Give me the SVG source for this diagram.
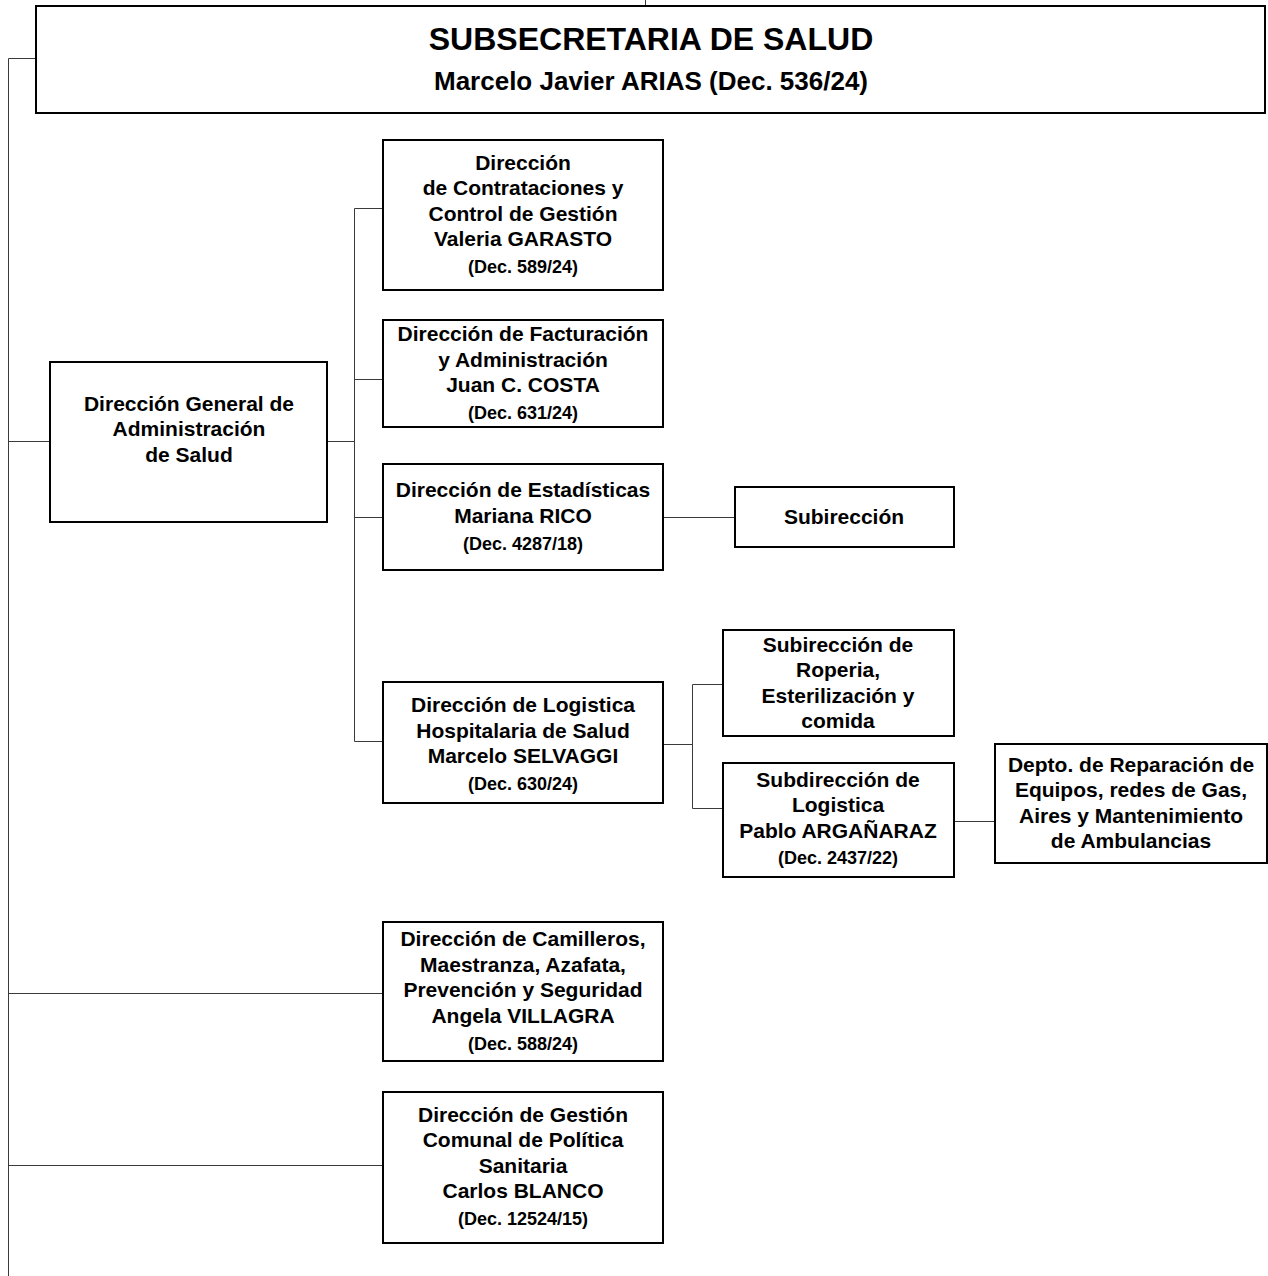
<svg xmlns="http://www.w3.org/2000/svg" width="1268" height="1276" viewBox="0 0 1268 1276">
<style>
.box{fill:#fff;stroke:#000;stroke-width:2}
.c{fill:none;stroke:#3a3a3a;stroke-width:1}
text{font-family:"Liberation Sans",Arial,sans-serif;font-weight:bold;fill:#000;text-anchor:middle}
.t{font-size:21px}
.d{font-size:18px}
</style>
<rect width="1268" height="1276" fill="#fff"/>
<g id="connectors">
<path class="c" d="M645.5 0V6"/>
<path class="c" d="M36 58.5H8.5V1276"/>
<path class="c" d="M8.5 441.5H50"/>
<path class="c" d="M8.5 993.5H383"/>
<path class="c" d="M8.5 1165.5H383"/>
<path class="c" d="M327 441.5H354.5"/>
<path class="c" d="M383 208.5H354.5V741.5H383"/>
<path class="c" d="M354.5 379.5H383"/>
<path class="c" d="M354.5 517.5H383"/>
<path class="c" d="M663 517.5H735"/>
<path class="c" d="M663 744.5H692.5"/>
<path class="c" d="M723 684.5H692.5V808.5H723"/>
<path class="c" d="M954 821.5H995"/>
</g>
<g id="n-subsecretaria">
<rect class="box" x="36" y="6" width="1229" height="107"/>
<text x="651" y="50" style="font-size:32px">SUBSECRETARIA DE SALUD</text>
<text x="651" y="90" style="font-size:26px">Marcelo Javier ARIAS (Dec. 536/24)</text>
</g>
<g id="n-dirgeneral">
<rect class="box" x="50" y="362" width="277" height="160"/>
<text class="t" x="189" y="411">Dirección General de</text>
<text class="t" x="189" y="436">Administración</text>
<text class="t" x="189" y="462">de Salud</text>
</g>
<g id="n-contrataciones">
<rect class="box" x="383" y="140" width="280" height="150"/>
<text class="t" x="523" y="170">Dirección</text>
<text class="t" x="523" y="195">de Contrataciones y</text>
<text class="t" x="523" y="221">Control de Gestión</text>
<text class="t" x="523" y="246">Valeria GARASTO</text>
<text class="d" x="523" y="273">(Dec. 589/24)</text>
</g>
<g id="n-facturacion">
<rect class="box" x="383" y="320" width="280" height="107"/>
<text class="t" x="523" y="341">Dirección de Facturación</text>
<text class="t" x="523" y="367">y Administración</text>
<text class="t" x="523" y="392">Juan C. COSTA</text>
<text class="d" x="523" y="419">(Dec. 631/24)</text>
</g>
<g id="n-estadisticas">
<rect class="box" x="383" y="464" width="280" height="106"/>
<text class="t" x="523" y="497">Dirección de Estadísticas</text>
<text class="t" x="523" y="523">Mariana RICO</text>
<text class="d" x="523" y="550">(Dec. 4287/18)</text>
</g>
<g id="n-subireccion">
<rect class="box" x="735" y="487" width="219" height="60"/>
<text class="t" x="844" y="524">Subirección</text>
</g>
<g id="n-logistica">
<rect class="box" x="383" y="682" width="280" height="121"/>
<text class="t" x="523" y="712">Dirección de Logistica</text>
<text class="t" x="523" y="738">Hospitalaria de Salud</text>
<text class="t" x="523" y="763">Marcelo SELVAGGI</text>
<text class="d" x="523" y="790">(Dec. 630/24)</text>
</g>
<g id="n-roperia">
<rect class="box" x="723" y="630" width="231" height="106"/>
<text class="t" x="838" y="652">Subirección de</text>
<text class="t" x="838" y="677">Roperia,</text>
<text class="t" x="838" y="703">Esterilización y</text>
<text class="t" x="838" y="728">comida</text>
</g>
<g id="n-sublogistica">
<rect class="box" x="723" y="763" width="231" height="114"/>
<text class="t" x="838" y="787">Subdirección de</text>
<text class="t" x="838" y="812">Logistica</text>
<text class="t" x="838" y="838">Pablo ARGAÑARAZ</text>
<text class="d" x="838" y="864">(Dec. 2437/22)</text>
</g>
<g id="n-depto">
<rect class="box" x="995" y="744" width="272" height="119"/>
<text class="t" x="1131" y="772">Depto. de Reparación de</text>
<text class="t" x="1131" y="797">Equipos, redes de Gas,</text>
<text class="t" x="1131" y="823">Aires y Mantenimiento</text>
<text class="t" x="1131" y="848">de Ambulancias</text>
</g>
<g id="n-camilleros">
<rect class="box" x="383" y="922" width="280" height="139"/>
<text class="t" x="523" y="946">Dirección de Camilleros,</text>
<text class="t" x="523" y="972">Maestranza, Azafata,</text>
<text class="t" x="523" y="997">Prevención y Seguridad</text>
<text class="t" x="523" y="1023">Angela VILLAGRA</text>
<text class="d" x="523" y="1050">(Dec. 588/24)</text>
</g>
<g id="n-gestion">
<rect class="box" x="383" y="1092" width="280" height="151"/>
<text class="t" x="523" y="1122">Dirección de Gestión</text>
<text class="t" x="523" y="1147">Comunal de Política</text>
<text class="t" x="523" y="1173">Sanitaria</text>
<text class="t" x="523" y="1198">Carlos BLANCO</text>
<text class="d" x="523" y="1225">(Dec. 12524/15)</text>
</g>
</svg>
